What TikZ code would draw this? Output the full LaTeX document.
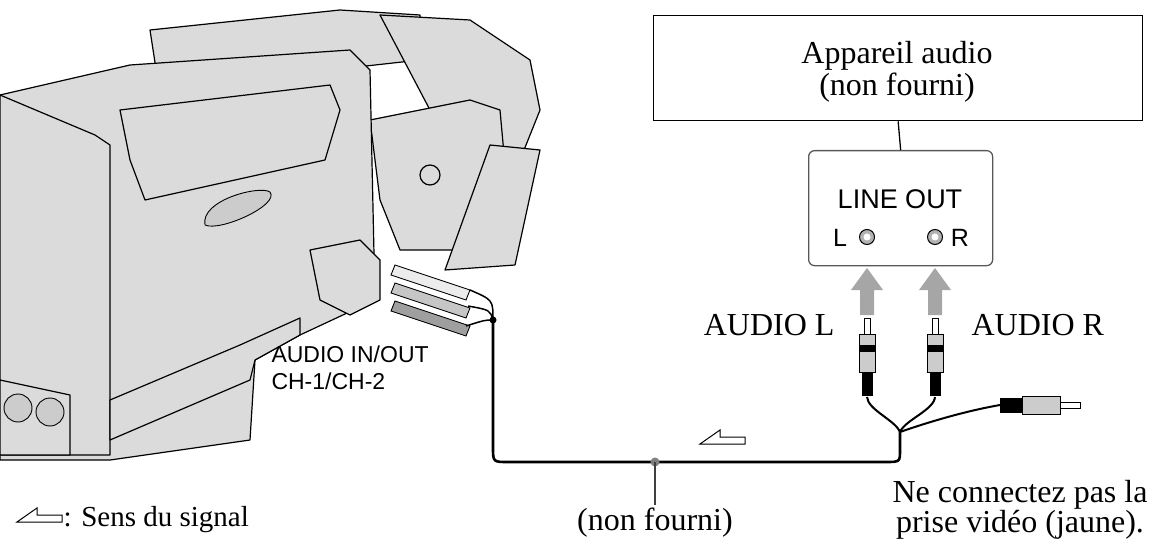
\documentclass[tikz,border=0pt]{standalone}
\usepackage{fontspec}
\setmainfont{Liberation Serif}
\setsansfont{Liberation Sans}
\usetikzlibrary{arrows.meta}
\begin{document}
\begin{tikzpicture}[x=1pt,y=-1pt,
  cam/.style={draw=black,line width=1.2pt,fill=gray!28,line join=round},
  camd/.style={draw=black,line width=0.9pt,fill=gray!40},
  cable/.style={line width=2.6pt,line cap=round,line join=round},
  thin/.style={line width=1.3pt},
  serif/.style={font=\fontsize{32}{32}\selectfont},
  sans/.style={font=\sffamily\fontsize{25}{27}\selectfont},
  garrow/.style={fill=gray!70,draw=none},
  sig/.style={draw=black,line width=1pt,fill=white}]
\useasboundingbox (0,0) rectangle (1162,548);
% ---------- camera (schematic) ----------
\path[cam] (150,30) -- (340,10) -- (420,15) -- (420,60) -- (330,70) -- (160,95) -- cycle;
\path[cam] (380,15) -- (470,20) -- (530,60) -- (540,110) -- (520,160) -- (470,170) -- (430,110) -- cycle;
\path[cam] (370,120) -- (470,100) -- (500,110) -- (510,220) -- (460,250) -- (400,250) -- (380,200) -- cycle;
\path[cam] (490,145) -- (540,150) -- (515,265) -- (445,270) -- cycle;
\path[cam] (430,175) circle (10);
\path[cam] (0,95) -- (130,65) -- (350,50) -- (370,70) -- (375,300) -- (300,335) -- (255,360) -- (250,440) -- (110,460) -- (0,460) -- cycle;
\path[cam] (120,110) -- (330,85) -- (340,110) -- (325,160) -- (145,200) -- (130,160) -- cycle;
\path[camd] (205,225) .. controls (200,200) and (260,185) .. (270,192) .. controls (280,205) and (220,232) .. cycle;
\path[cam] (0,95) -- (95,135) -- (110,145) -- (110,455) -- (0,455) -- cycle;
\path[cam] (0,380) -- (70,395) -- (70,455) -- (0,455) -- cycle;
\path[camd] (18,408) circle (14);
\path[camd] (50,412) circle (14);
\path[cam] (110,400) -- (240,345) -- (300,318) -- (300,335) -- (255,360) -- (250,380) -- (110,440) -- cycle;
\path[cam] (310,250) -- (360,240) -- (380,260) -- (380,300) -- (350,315) -- (320,300) -- cycle;
% plugs at camera
\foreach \dy/\c in {0/gray!15,18/gray!45,36/gray!75}{
  \path[draw=black,line width=0.9pt,fill=\c] (395,265+\dy) -- (440,280+\dy) -- (470,290+\dy) -- (466,300+\dy) -- (436,290+\dy) -- (391,275+\dy) -- cycle;
}
% ---------- nodes ----------
\node[draw=black,line width=1.3pt,minimum width=489pt,minimum height=105pt,anchor=north west,inner sep=0] (dev) at (653,15) {};
\node[serif,align=center] (devtext) at (897,72) {Appareil audio\\(non fourni)};
\node[draw=gray!70!black,line width=1.3pt,rounded corners=6pt,minimum width=184pt,minimum height=115pt,anchor=north west,inner sep=0] (lo) at (808,150) {};
\node[sans,font=\sffamily\fontsize{27}{27}\selectfont] (lotext) at (900,199) {LINE OUT};
\node[sans] (Ltext) at (840,238) {L};
\node[sans] (Rtext) at (960,238) {R};
\foreach \n/\x in {jl/867,jr/935}{
  \node[circle,draw=black,fill=gray!60,line width=1pt,minimum size=15pt,inner sep=0] (\n) at (\x,237) {};
  \fill[white] (\x,237) circle (3.5);
}
\draw[thin] (dev.south) -- (lo.north);
% gray arrows
\foreach \x in {867,935}{
  \path[garrow] (\x-7,315) -- (\x-7,290) -- (\x-16,290) -- (\x,268) -- (\x+16,290) -- (\x+7,290) -- (\x+7,315) -- cycle;
}
% RCA plugs
\foreach \n/\x in {pl/867,pr/935}{
  \draw[line width=1pt,fill=white] (\x-3,318) rectangle (\x+3,334);
  \draw[line width=1pt,fill=gray!40] (\x-8,334) rectangle (\x+8,372);
  \fill[black] (\x-8,345) rectangle (\x+8,352);
  \draw[line width=1pt,fill=black] (\x-5,372) rectangle (\x+5,395);
  \coordinate (\n) at (\x,397);
}
\node[serif,anchor=east] (al) at (838,325) {AUDIO L};
\node[serif,anchor=west] (ar) at (968,325) {AUDIO R};
% right (video) plug
\draw[line width=1pt,fill=black] (1000,398) rectangle (1022,412);
\draw[line width=1pt,fill=gray!40] (1022,396) rectangle (1060,414);
\draw[line width=1pt,fill=white] (1060,402) rectangle (1080,408);
\coordinate (pv) at (1000,405);
% junction and cables
\coordinate (j) at (900,432);
\draw[line width=2pt] (pl) .. controls (868,410) and (895,420) .. (j);
\draw[line width=2pt] (pr) .. controls (934,410) and (905,420) .. (j);
\draw[line width=2pt] (pv) .. controls (960,412) and (920,425) .. (j);
\coordinate (cd) at (493,320);
\draw[cable] (j) -- (900,450) .. controls (900,462) .. (885,462) -- (508,462) .. controls (493,462) .. (493,447) -- (cd);
\fill (cd) circle (3.5);
\draw[line width=1.5pt] (cd) .. controls (493,300) .. (470,290);
\draw[line width=1.5pt] (cd) .. controls (490,310) .. (468,306);
\draw[line width=1.5pt] (cd) .. controls (485,320) .. (466,326);
% signal arrow
\path[sig] (745,437) -- (720,437) -- (720,430) -- (700,444) -- (745,444) -- cycle;
% non fourni
\coordinate (nf) at (655,462);
\fill[gray] (nf) circle (4.5);
\node[serif] (nftext) at (655,523) {(non fourni)};
\draw[thin,gray!50!black] (nf) -- (nftext.north);
\node[serif,align=center,font=\fontsize{32}{30}\selectfont] (note) at (1020,510) {Ne connectez pas la\\prise vidéo (jaune).};
\node[sans,align=left,anchor=west,font=\sffamily\fontsize{23}{27}\selectfont] (aud) at (268,368) {AUDIO IN/OUT\\CH-1/CH-2};
% legend
\path[sig] (62,515) -- (37,515) -- (37,508) -- (17,522) -- (62,522) -- cycle;
\node[serif,anchor=west,font=\fontsize{29}{29}\selectfont] (leg) at (60,520) {: Sens du signal};
\end{tikzpicture}
\end{document}
